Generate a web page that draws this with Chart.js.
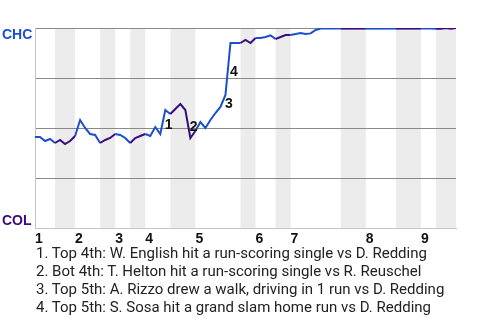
<!DOCTYPE html>
<html>
<head>
<meta charset="utf-8">
<script src="https://cdn.jsdelivr.net/npm/chart.js@4"></script>
<style>
  html, body { margin: 0; padding: 0; background: #fff; }
  #wrap { position: relative; width: 480px; height: 320px; }
  #notes {
    position: absolute; left: 36px; top: 244px;
    font: 15px Roboto, sans-serif; line-height: 18px; color: #222;
  }
</style>
</head>
<body>
<div id="wrap">
  <canvas id="wpChart" width="480" height="320"></canvas>
  <div id="notes"></div>
</div>
<script>
// CHC win probability after each plate appearance
const winProb = [
  0.455, 0.455, 0.435, 0.445, 0.425, 0.44, 0.42, 0.435, 0.46, 0.54,
  0.50, 0.47, 0.465, 0.425, 0.44, 0.45, 0.47, 0.465, 0.45, 0.425,
  0.45, 0.46, 0.47, 0.46, 0.505, 0.47, 0.59, 0.57, 0.595, 0.62,
  0.59, 0.45, 0.485, 0.53, 0.50, 0.54, 0.575, 0.605, 0.665, 0.925,
  0.925, 0.925, 0.94, 0.925, 0.95, 0.95, 0.955, 0.963, 0.945, 0.955,
  0.965, 0.965, 0.97, 0.975, 0.97, 0.973, 0.99, 0.997, 0.997, 0.997,
  0.997, 0.997, 0.997, 0.997, 0.997, 0.997, 0.997, 0.997, 0.997, 0.997,
  0.997, 0.997, 0.997, 0.997, 0.997, 0.997, 0.997, 0.997, 0.997, 0.997,
  0.996, 0.996, 1.0, 0.996, 1.0
];
// index where each inning starts (top half)
const inningStarts = [0, 8, 16, 22, 32, 44, 51, 66, 77];
const inningLabels = ['1', '2', '3', '4', '5', '6', '7', '8', '9'];
// bottom halves: [start, end] in plate-appearance index
const bottomHalves = [[4, 8], [13, 16], [19, 22], [27, 32], [41, 44], [48, 51], [61, 66], [72, 77], [80, 84]];
// key plays: index of the plate appearance that ends the play
const keyPlays = [26, 31, 38, 39];
const keyNotes = [
  '1. Top 4th: W. English hit a run-scoring single vs D. Redding',
  '2. Bot 4th: T. Helton hit a run-scoring single vs R. Reuschel',
  '3. Top 5th: A. Rizzo drew a walk, driving in 1 run vs D. Redding',
  '4. Top 5th: S. Sosa hit a grand slam home run vs D. Redding'
];

const blue = '#1b4fcf';
const purple = '#3a0b7c';
const boldFont = 'bold 14px "Liberation Sans", Arial, sans-serif';

document.getElementById('notes').innerHTML = keyNotes.join('<br>');

function isBottom(i) {
  return bottomHalves.some(b => i >= b[0] && i < b[1]);
}

const bands = {
  id: 'bands',
  beforeDraw(chart) {
    const { ctx, chartArea, scales } = chart;
    ctx.save();
    ctx.fillStyle = '#ececec';
    bottomHalves.forEach(b => {
      const x0 = scales.x.getPixelForValue(b[0]);
      const x1 = scales.x.getPixelForValue(b[1]);
      ctx.fillRect(x0, chartArea.top, x1 - x0, chartArea.bottom - chartArea.top);
    });
    ctx.restore();
  },
  afterDraw(chart) {
    const { ctx, chartArea, scales } = chart;
    ctx.save();
    ctx.font = boldFont;
    ctx.textAlign = 'left';
    ctx.fillStyle = blue;
    ctx.textBaseline = 'alphabetic';
    ctx.fillText('CHC', 2, chartArea.top + 11);
    ctx.fillStyle = purple;
    ctx.fillText('COL', 2, chartArea.bottom - 3);

    // numbered markers beside key plays
    ctx.fillStyle = '#111';
    ctx.textBaseline = 'middle';
    keyPlays.forEach((k, n) => {
      const xm = (scales.x.getPixelForValue(k - 1) + scales.x.getPixelForValue(k)) / 2;
      const ym = (scales.y.getPixelForValue(winProb[k - 1]) + scales.y.getPixelForValue(winProb[k])) / 2;
      ctx.fillText(String(n + 1), xm + 2, ym + 3);
    });
    ctx.restore();
  }
};

new Chart(document.getElementById('wpChart'), {
  type: 'line',
  data: {
    datasets: [{
      data: winProb.map((v, i) => ({ x: i, y: v })),
      borderColor: blue,
      borderWidth: 2,
      pointRadius: 0,
      tension: 0,
      segment: {
        borderColor: c => isBottom(c.p0DataIndex) ? purple : blue
      }
    }]
  },
  options: {
    responsive: false,
    animation: false,
    layout: { padding: { top: 28, right: 24, left: 0, bottom: 0 } },
    plugins: { legend: { display: false }, tooltip: { enabled: false } },
    scales: {
      x: {
        type: 'linear',
        min: 0,
        max: winProb.length - 1,
        afterFit: s => { s.height = 92; },
        afterBuildTicks: s => { s.ticks = inningStarts.map(v => ({ value: v })); },
        grid: { display: false, drawTicks: false },
        border: { color: '#c4c4c4' },
        ticks: {
          align: 'start',
          padding: 3,
          autoSkip: false,
          maxRotation: 0,
          color: '#111',
          font: { family: '"Liberation Sans", Arial, sans-serif', size: 14, weight: 'bold' },
          callback: (v) => inningLabels[inningStarts.indexOf(v)] ?? ''
        }
      },
      y: {
        min: 0,
        max: 1,
        afterFit: s => { s.width = 35; },
        ticks: { stepSize: 0.25, display: false },
        grid: {
          drawTicks: false,
          color: c => c.tick.value === 0 ? 'rgba(0,0,0,0)' : '#8a8a8a'
        },
        border: { color: '#c4c4c4' }
      }
    }
  },
  plugins: [bands]
});
</script>
</body>
</html>
